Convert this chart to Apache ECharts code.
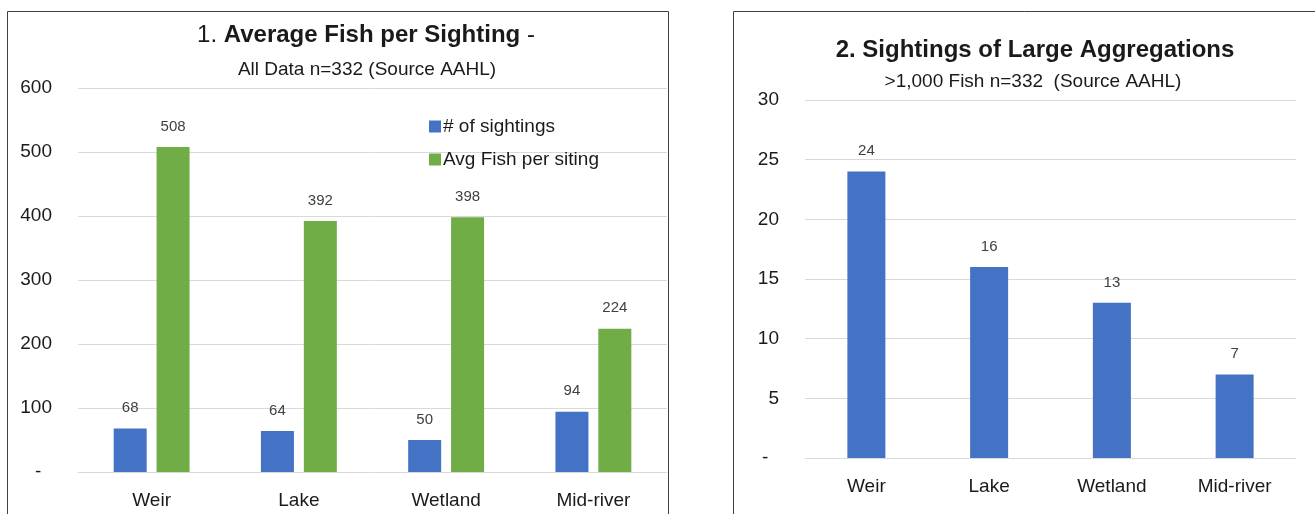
<!DOCTYPE html>
<html><head><meta charset="utf-8">
<script src="https://cdn.jsdelivr.net/npm/echarts@6/dist/echarts.min.js"></script>
<style>html,body{margin:0;padding:0;background:#fff}#c{width:1315px;height:514px}</style>
</head><body><div id="c"></div>
<script>
const categories = ['Weir', 'Lake', 'Wetland', 'Mid-river'];
const sightings = [68, 64, 50, 94];
const avgFish = [508, 392, 398, 224];
const largeAgg = [24, 16, 13, 7];
const seriesNames = ['# of sightings', 'Avg Fish per siting'];

const FONT = "'Liberation Sans Narrow','Arial Narrow','Liberation Sans',sans-serif";
const TXT = '#1a1a1a';
const GRIDC = '#d9d9d9';
const BLUE = '#4472C4';
const GREEN = '#70AD47';

function zeroDash(v) { return v === 0 ? '-  ' : String(v); }

const chart = echarts.init(document.getElementById('c'), null, { renderer: 'canvas' });
const valueLabel = { show: true, position: 'top', distance: 13, color: '#404040', fontSize: 15, fontFamily: FONT };

chart.setOption({
  animation: false,
  textStyle: { fontFamily: FONT },
  graphic: [
    { type: 'rect', shape: { x: 7.5, y: 11.5, width: 661, height: 520 }, style: { fill: 'none', stroke: '#404040', lineWidth: 1 } },
    { type: 'rect', shape: { x: 733.5, y: 11.5, width: 600, height: 520 }, style: { fill: 'none', stroke: '#404040', lineWidth: 1 } }
  ],
  title: [
    { text: '{n|1. }{b|Average Fish per Sighting}{n| -}', left: 361, top: 18, textAlign: 'center',
      textStyle: { fontWeight: 'normal', rich: { n: { fontSize: 24, fontWeight: 'normal', color: TXT, fontFamily: FONT }, b: { fontSize: 24, fontWeight: 'bold', color: TXT, fontFamily: FONT } } } },
    { text: 'All Data n=332 (Source AAHL)', left: 362, top: 55, textAlign: 'center',
      textStyle: { fontSize: 19, fontWeight: 'normal', color: TXT, fontFamily: FONT } },
    { text: '2. Sightings of Large Aggregations', left: 1030, top: 33, textAlign: 'center',
      textStyle: { fontSize: 24, fontWeight: 'bold', color: TXT, fontFamily: FONT } },
    { text: '>1,000 Fish n=332  (Source AAHL)', left: 1028, top: 67, textAlign: 'center',
      textStyle: { fontSize: 19, fontWeight: 'normal', color: TXT, fontFamily: FONT } }
  ],
  legend: {
    data: seriesNames, orient: 'vertical', left: 424, top: 112, itemGap: 14,
    icon: 'rect', itemWidth: 12, itemHeight: 12,
    textStyle: { fontSize: 19, color: TXT, fontFamily: FONT, padding: [0, 0, 0, -3] }
  },
  grid: [
    { left: 78, top: 88, width: 589, height: 384 },
    { left: 805, top: 100, width: 491, height: 358 }
  ],
  xAxis: [
    { type: 'category', gridIndex: 0, data: categories, axisTick: { show: false },
      axisLine: { lineStyle: { color: GRIDC, width: 1 } },
      axisLabel: { fontSize: 19, color: TXT, margin: 19, fontFamily: FONT } },
    { type: 'category', gridIndex: 1, data: categories, axisTick: { show: false },
      axisLine: { lineStyle: { color: GRIDC, width: 1 } },
      axisLabel: { fontSize: 19, color: TXT, margin: 19, fontFamily: FONT } }
  ],
  yAxis: [
    { type: 'value', gridIndex: 0, min: 0, max: 600, interval: 100,
      axisLine: { show: false }, axisTick: { show: false },
      splitLine: { lineStyle: { color: GRIDC, width: 1 } },
      axisLabel: { fontSize: 19, color: TXT, margin: 26, formatter: zeroDash, fontFamily: FONT } },
    { type: 'value', gridIndex: 1, min: 0, max: 30, interval: 5,
      axisLine: { show: false }, axisTick: { show: false },
      splitLine: { lineStyle: { color: GRIDC, width: 1 } },
      axisLabel: { fontSize: 19, color: TXT, margin: 26, formatter: zeroDash, fontFamily: FONT } }
  ],
  series: [
    { name: seriesNames[0], type: 'bar', xAxisIndex: 0, yAxisIndex: 0, data: sightings,
      barWidth: 33, barGap: '30%', itemStyle: { color: BLUE }, label: valueLabel },
    { name: seriesNames[1], type: 'bar', xAxisIndex: 0, yAxisIndex: 0, data: avgFish,
      barWidth: 33, barGap: '30%', itemStyle: { color: GREEN }, label: valueLabel },
    { name: 'Large aggregations', type: 'bar', xAxisIndex: 1, yAxisIndex: 1, data: largeAgg,
      barWidth: 38, itemStyle: { color: BLUE }, label: valueLabel }
  ]
});
</script></body></html>
